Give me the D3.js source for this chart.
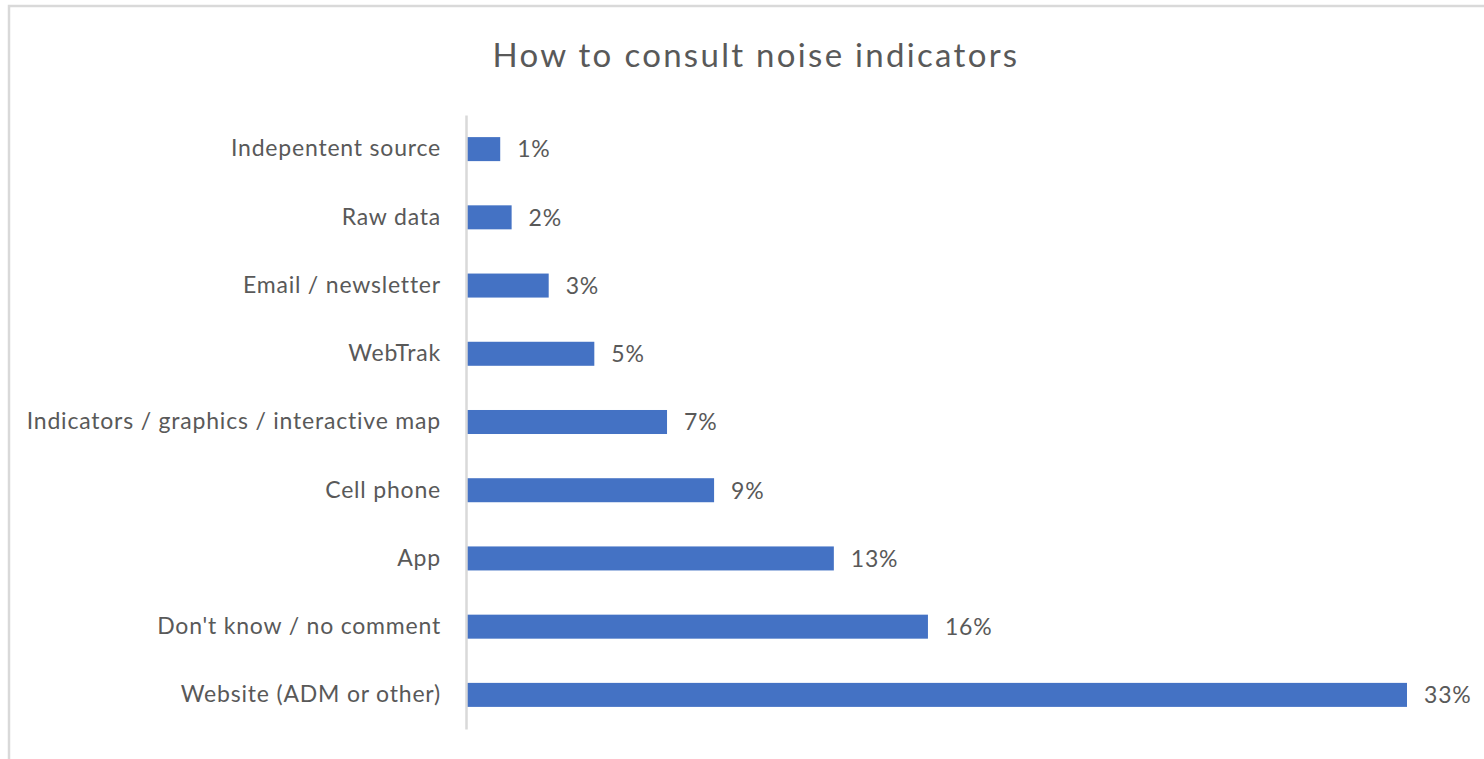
<!DOCTYPE html>
<html><head><meta charset="utf-8">
<script src="https://cdn.jsdelivr.net/npm/d3@7"></script>
<style>body{margin:0;background:#fff;} svg{display:block;}</style>
</head><body>
<svg id="chart" width="1484" height="759"></svg>
<script>
const title = "How to consult noise indicators";
const categories = ["Indepentent source","Raw data","Email / newsletter","WebTrak","Indicators / graphics / interactive map","Cell phone","App","Don't know / no comment","Website (ADM or other)"];
const values = [1.2, 1.6, 2.9, 4.5, 7.05, 8.7, 12.9, 16.2, 33];
const valueLabels = ["1%","2%","3%","5%","7%","9%","13%","16%","33%"];

(function(){
const svg = d3.select("#chart");
const font = "Lato, 'Open Sans', sans-serif";
const textColor = "#595959";

svg.append("rect").attr("x",9).attr("y",6).attr("width",1490).attr("height",770)
  .attr("fill","#fff").attr("stroke","#d9d9d9").attr("stroke-width",2.5);

const x0 = 466, plotTop = 115, plotBottom = 729;
const x = d3.scaleLinear().domain([0, 33]).range([x0, 1407]);
const y = d3.scaleBand().domain(categories).range([plotTop, plotBottom]).paddingInner(0.648).paddingOuter(0.324);

svg.append("text").attr("x",756).attr("y",67).attr("text-anchor","middle")
  .attr("font-family",font).attr("font-size",33).attr("letter-spacing",2.3)
  .attr("fill",textColor).text(title);

svg.selectAll("rect.bar").data(categories).join("rect").attr("class","bar")
  .attr("x", x(0)+1).attr("y", d=>y(d)).attr("height", y.bandwidth())
  .attr("width", (d,i)=>x(values[i])-x(0)-1).attr("fill","#4472C4");

const yAxis = d3.axisLeft(y).tickSize(0).tickPadding(25);
const g = svg.append("g").attr("transform",`translate(${x0},0)`).call(yAxis);
g.select(".domain").attr("stroke","#d9d9d9").attr("stroke-width",2.5);
g.selectAll("text").attr("font-family",font).attr("font-size",23).attr("letter-spacing",0.8).attr("fill",textColor);

svg.selectAll("text.val").data(categories).join("text").attr("class","val")
  .attr("x",(d,i)=>x(values[i])+17).attr("y", d=>y(d)+y.bandwidth()/2).attr("dy","0.36em")
  .attr("font-family",font).attr("font-size",23).attr("letter-spacing",0.8).attr("fill",textColor)
  .text((d,i)=>valueLabels[i]);
})();
</script>
</body></html>
